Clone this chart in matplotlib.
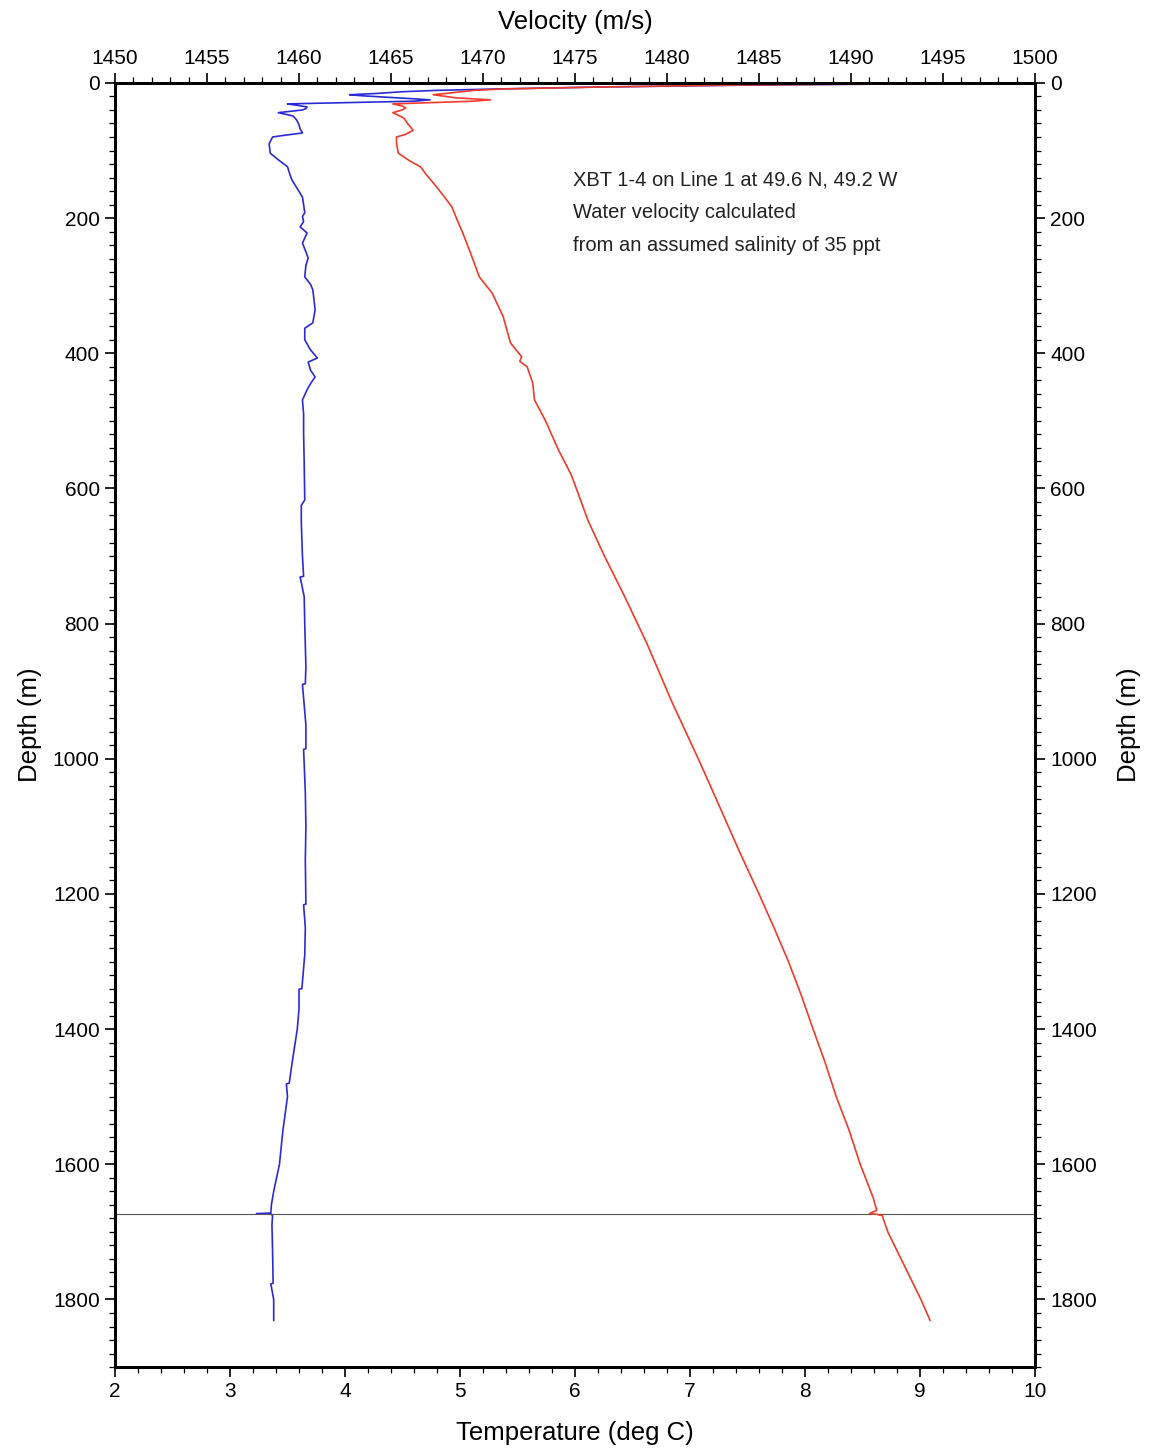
import matplotlib
matplotlib.use("Agg")
import matplotlib.pyplot as plt
from matplotlib.ticker import MultipleLocator

plt.rcParams['font.family'] = ['Liberation Sans', 'DejaVu Sans']

# === Temperature profile (blue), depth in m, temperature in deg C ===
temp_depth = [0, 1, 3, 6, 9, 11, 13, 15.5, 17.5, 19, 21, 23, 25, 27, 31, 33, 35.5, 38, 40,
              44, 47, 49, 55, 62, 68, 74, 78, 80, 90, 104, 115, 124, 135, 144, 155, 169,
              180, 192, 198, 205, 213, 222, 237, 250, 259, 270, 287, 298, 306, 320, 336,
              355, 363, 380, 395, 407, 413, 425, 435, 445, 454, 469, 490, 518, 560, 617,
              625, 650, 700, 730, 731, 760, 800, 864, 889, 890, 950, 985, 986, 1050, 1100,
              1150, 1215, 1216, 1250, 1290, 1330, 1340, 1341, 1370, 1400, 1450, 1480, 1481,
              1500, 1550, 1600, 1640, 1660, 1672, 1673, 1674, 1676, 1690, 1727, 1776, 1777,
              1800, 1831]
temp_vals = [10.4, 9.3, 7.6, 6.22, 5.3, 4.80, 4.50, 4.28, 4.04, 4.15, 4.35, 4.55, 4.74, 4.6,
             3.50, 3.58, 3.67, 3.66, 3.63, 3.42, 3.50, 3.55, 3.58, 3.60, 3.61, 3.63, 3.45,
             3.37, 3.34, 3.35, 3.43, 3.50, 3.52, 3.54, 3.58, 3.63, 3.64, 3.65, 3.63, 3.64,
             3.61, 3.67, 3.63, 3.66, 3.68, 3.66, 3.65, 3.70, 3.72, 3.73, 3.74, 3.72, 3.65,
             3.65, 3.70, 3.76, 3.68, 3.70, 3.74, 3.70, 3.67, 3.63, 3.64, 3.64, 3.645, 3.65,
             3.62, 3.62, 3.63, 3.64, 3.61, 3.645, 3.65, 3.66, 3.655, 3.63, 3.66, 3.66, 3.64,
             3.655, 3.66, 3.655, 3.66, 3.64, 3.655, 3.65, 3.63, 3.625, 3.60, 3.60, 3.585,
             3.54, 3.515, 3.49, 3.50, 3.46, 3.43, 3.38, 3.36, 3.355, 3.23, 3.36, 3.37, 3.365,
             3.37, 3.375, 3.355, 3.38, 3.38]

# === Velocity profile (red), depth in m, velocity in m/s ===
vel_depth = [0, 1, 3, 6, 9, 11, 14, 17.5, 20, 22, 25, 27, 31, 34, 37, 40, 44, 48, 52, 60,
             70, 76, 80, 90, 104, 115, 124, 135, 148, 165, 183, 203, 222, 250, 287, 311,
             346, 366, 385, 405, 412, 420, 444, 469, 500, 543, 580, 617, 647, 700, 760,
             829, 918, 1000, 1061, 1135, 1200, 1249, 1300, 1350, 1397, 1450, 1500, 1550,
             1600, 1649, 1668, 1673, 1674, 1676, 1700, 1750, 1800, 1831]
vel_vals = [1501, 1494, 1484, 1476.4, 1471, 1469.5, 1468.5, 1467.3, 1468.0, 1468.5, 1470.4,
            1469.5, 1465.1, 1465.6, 1465.8, 1465.6, 1465.1, 1465.4, 1465.7, 1465.9, 1466.2,
            1465.8, 1465.3, 1465.3, 1465.4, 1466.0, 1466.6, 1466.9, 1467.3, 1467.8, 1468.3,
            1468.6, 1468.9, 1469.3, 1469.8, 1470.5, 1471.1, 1471.3, 1471.5, 1472.1, 1472.0,
            1472.4, 1472.7, 1472.8, 1473.4, 1474.1, 1474.8, 1475.3, 1475.7, 1476.6, 1477.7,
            1478.9, 1480.3, 1481.7, 1482.7, 1483.9, 1485.0, 1485.8, 1486.6, 1487.3, 1487.9,
            1488.6, 1489.2, 1489.9, 1490.5, 1491.2, 1491.4, 1491.0, 1491.4, 1491.7, 1492.0,
            1492.9, 1493.8, 1494.3]

bottom_depth = 1674
note_lines = ["XBT 1-4 on Line 1 at 49.6 N, 49.2 W",
              "Water velocity calculated",
              "from an assumed salinity of 35 ppt"]

fig = plt.figure(figsize=(11.5, 14.5), dpi=100)
ax = fig.add_axes([0.1, 0.0572, 0.8, 0.8856])
ax2 = ax.twiny()

ax.plot(temp_vals, temp_depth, color='#2b2bd6', lw=1.2)
ax2.plot(vel_vals, vel_depth, color='#ee3b2a', lw=1.2)
ax.axhline(bottom_depth, color='#555555', lw=0.8)

ax.set_xlim(2, 10)
ax2.set_xlim(1450, 1500)
ax.set_ylim(1900, 0)

ax.xaxis.set_major_locator(MultipleLocator(1))
ax.xaxis.set_minor_locator(MultipleLocator(0.2))
ax2.xaxis.set_major_locator(MultipleLocator(5))
ax2.xaxis.set_minor_locator(MultipleLocator(1))
ax.yaxis.set_major_locator(MultipleLocator(200))
ax.yaxis.set_minor_locator(MultipleLocator(20))

right = ax.secondary_yaxis('right')
right.yaxis.set_major_locator(MultipleLocator(200))
right.yaxis.set_minor_locator(MultipleLocator(20))

for a in (ax, ax2, right):
    a.tick_params(which='major', direction='out', length=7, width=1.2, labelsize=15, pad=4)
    a.tick_params(which='minor', direction='out', length=4, width=0.9)
for a in (ax, ax2):
    for s in a.spines.values():
        s.set_linewidth(2)
right.spines['right'].set_linewidth(2)

ax.set_xlabel("Temperature (deg C)", fontsize=18.5, labelpad=14)
ax2.set_xlabel("Velocity (m/s)", fontsize=18.5, labelpad=14)
ax.set_ylabel("Depth (m)", fontsize=18.5, labelpad=8)
right.set_ylabel("Depth (m)", fontsize=18.5, labelpad=14, rotation=90)

for i, line in enumerate(note_lines):
    ax.text(0.498, 0.9245 - i * 0.0257, line, transform=ax.transAxes,
            fontsize=14.5, va='center', ha='left', color='#222222')

fig.savefig("out.png", dpi=100)
